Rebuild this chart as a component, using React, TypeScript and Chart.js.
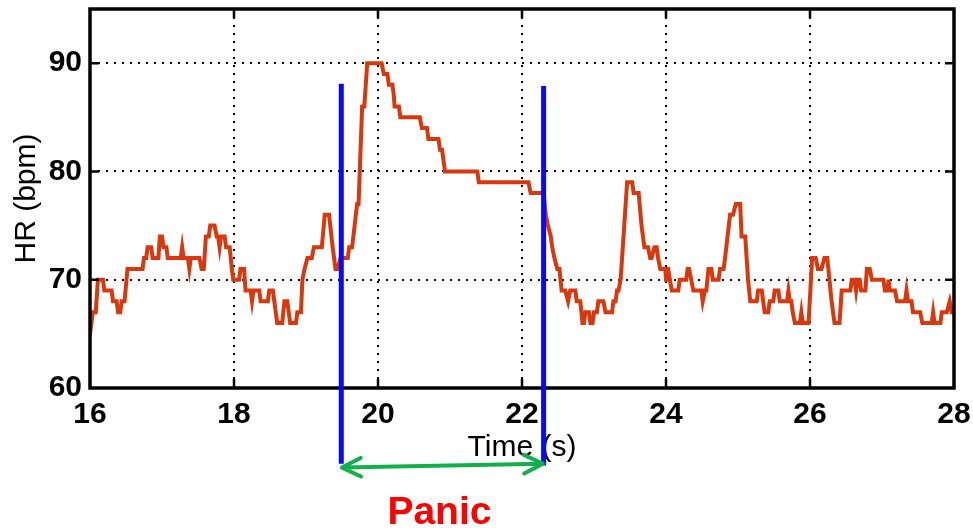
import React, { useEffect, useRef } from 'react';
import { Chart, registerables } from 'chart.js';

Chart.register(...registerables);

// Heart-rate trace (time in s, HR in bpm)
const timeSec = [
  16.00, 16.02, 16.04, 16.08, 16.11, 16.18, 16.20, 16.30, 16.32, 16.37, 16.39, 16.42, 16.44, 16.48,
  16.52, 16.73, 16.75, 16.78, 16.80, 16.85, 16.87, 16.95, 16.97, 17.00, 17.02, 17.06, 17.08, 17.26,
  17.28, 17.30, 17.36, 17.38, 17.40, 17.52, 17.55, 17.58, 17.61, 17.65, 17.67, 17.73, 17.76, 17.78,
  17.80, 17.82, 17.87, 17.89, 17.94, 17.97, 17.99, 18.07, 18.09, 18.14, 18.16, 18.23, 18.25, 18.27,
  18.35, 18.37, 18.47, 18.49, 18.54, 18.56, 18.60, 18.67, 18.70, 18.74, 18.78, 18.86, 18.88, 18.93,
  18.95, 18.98, 19.02, 19.08, 19.11, 19.22, 19.26, 19.32, 19.37, 19.41, 19.44, 19.48, 19.58, 19.60,
  19.64, 19.71, 19.73, 19.78, 19.81, 19.85, 20.05, 20.08, 20.13, 20.15, 20.20, 20.22, 20.23, 20.29,
  20.31, 20.58, 20.61, 20.68, 20.70, 20.84, 20.86, 20.89, 20.91, 20.93, 21.38, 21.40, 22.09, 22.12,
  22.30, 22.33, 22.36, 22.40, 22.42, 22.45, 22.49, 22.52, 22.55, 22.60, 22.64, 22.67, 22.74, 22.76,
  22.81, 22.84, 22.86, 22.88, 22.93, 22.95, 22.98, 23.00, 23.04, 23.06, 23.13, 23.16, 23.25, 23.27,
  23.30, 23.32, 23.34, 23.37, 23.46, 23.53, 23.55, 23.62, 23.66, 23.70, 23.75, 23.78, 23.80, 23.84,
  23.87, 23.89, 23.92, 23.99, 24.00, 24.01, 24.03, 24.08, 24.17, 24.19, 24.28, 24.30, 24.32, 24.35,
  24.38, 24.49, 24.51, 24.54, 24.56, 24.59, 24.63, 24.65, 24.73, 24.75, 24.80, 24.82, 24.89, 24.93,
  24.97, 25.03, 25.05, 25.10, 25.14, 25.17, 25.26, 25.28, 25.33, 25.37, 25.42, 25.44, 25.49, 25.51,
  25.56, 25.58, 25.68, 25.70, 25.72, 25.74, 25.76, 25.79, 25.86, 25.88, 25.90, 25.98, 26.03, 26.08,
  26.11, 26.16, 26.20, 26.24, 26.30, 26.34, 26.41, 26.44, 26.56, 26.58, 26.62, 26.64, 26.66, 26.69,
  26.71, 26.77, 26.79, 26.83, 26.86, 27.02, 27.04, 27.08, 27.09, 27.11, 27.18, 27.21, 27.32, 27.34,
  27.36, 27.41, 27.43, 27.53, 27.56, 27.69, 27.71, 27.73, 27.81, 27.83, 27.90, 27.94, 27.97, 28.00,
];
const heartRate = [
  67, 66, 67, 67, 70, 70, 69, 69, 68, 68, 67, 67, 68, 68,
  71, 71, 72, 72, 73, 73, 72, 72, 74, 74, 73, 73, 72, 72,
  73, 72, 72, 71, 72, 72, 71, 71, 74, 74, 75, 75, 74, 74,
  73, 74, 74, 73, 73, 71, 70, 70, 71, 71, 69, 69, 68, 69,
  69, 68, 68, 69, 69, 68, 66, 66, 68, 68, 66, 66, 67, 67,
  70, 71, 72, 72, 73, 73, 76, 76, 73, 71, 71, 72, 72, 73,
  73, 77, 77, 86, 86, 90, 90, 89, 89, 88, 88, 87, 86, 86,
  85, 85, 84, 84, 83, 83, 82, 82, 81, 80, 80, 79, 79, 78,
  78, 76, 75, 74, 73, 72, 71, 71, 69, 69, 68, 69, 69, 68,
  68, 66, 66, 67, 67, 66, 66, 67, 67, 68, 68, 67, 67, 68,
  68, 69, 69, 70, 79, 79, 78, 78, 75, 73, 73, 72, 72, 73,
  73, 72, 71, 71, 70, 71, 71, 69, 69, 70, 70, 71, 71, 70,
  69, 69, 68, 69, 69, 71, 71, 70, 70, 71, 71, 72, 76, 76,
  77, 77, 74, 74, 70, 68, 68, 69, 69, 67, 67, 68, 68, 69,
  69, 68, 68, 69, 68, 68, 67, 66, 66, 67, 66, 66, 72, 72,
  71, 71, 72, 72, 68, 66, 66, 69, 69, 70, 70, 69, 70, 70,
  69, 69, 71, 71, 70, 70, 69, 69, 70, 69, 69, 68, 68, 69,
  68, 68, 67, 67, 66, 66, 67, 66, 66, 67, 67, 68, 67, 67,
];

const xTickValues = [16, 18, 20, 22, 24, 26, 28];
const yTickValues = [60, 70, 80, 90];

// Panic annotation (time in s, vertical extent in bpm units of the y scale)
const panicTimes = [19.49, 22.3];
const panicTopHR = [88.1, 87.9];
const panicBottomHR = [53.0, 52.85];
const arrowTimes = [19.5, 22.29];
const arrowHR = [52.65, 53.0];
const panicLabel = 'Panic';

const FONT = "'Liberation Sans', Arial, Helvetica, sans-serif";

export default function App() {
  const ref = useRef<HTMLCanvasElement>(null);

  useEffect(() => {
    const canvas = ref.current;
    if (!canvas) return;

    const overlay = {
      id: 'overlay',
      afterDraw(chart: any) {
        const { ctx, chartArea } = chart;
        const { left, right, top, bottom } = chartArea;
        const xs = chart.scales.x;
        const ys = chart.scales.y;
        ctx.save();
        // box
        ctx.strokeStyle = '#000';
        ctx.lineWidth = 3.5;
        ctx.strokeRect(left, top, right - left, bottom - top);
        // inward tick marks
        ctx.lineWidth = 2.5;
        ctx.beginPath();
        yTickValues.forEach((v) => {
          if (v === 60) return;
          const y = ys.getPixelForValue(v);
          ctx.moveTo(left, y);
          ctx.lineTo(left + 9, y);
          ctx.moveTo(right, y);
          ctx.lineTo(right - 9, y);
        });
        xTickValues.forEach((v) => {
          if (v === 16 || v === 28) return;
          const x = xs.getPixelForValue(v);
          ctx.moveTo(x, bottom);
          ctx.lineTo(x, bottom - 9);
          ctx.moveTo(x, top);
          ctx.lineTo(x, top + 9);
        });
        ctx.stroke();
        // blue panic boundaries
        ctx.strokeStyle = '#0808ff';
        ctx.lineWidth = 5;
        panicTimes.forEach((t, i) => {
          const x = xs.getPixelForValue(t);
          ctx.beginPath();
          ctx.moveTo(x, ys.getPixelForValue(panicTopHR[i]));
          ctx.lineTo(x, ys.getPixelForValue(panicBottomHR[i]));
          ctx.stroke();
        });
        // green double arrow
        const x1 = xs.getPixelForValue(arrowTimes[0]);
        const y1 = ys.getPixelForValue(arrowHR[0]);
        const x2 = xs.getPixelForValue(arrowTimes[1]);
        const y2 = ys.getPixelForValue(arrowHR[1]);
        ctx.strokeStyle = '#12b04c';
        ctx.lineWidth = 4;
        ctx.lineCap = 'round';
        ctx.lineJoin = 'round';
        ctx.beginPath();
        ctx.moveTo(x1, y1);
        ctx.lineTo(x2, y2);
        const ang = Math.atan2(y2 - y1, x2 - x1);
        const hl = 21;
        const ha = 0.46;
        ctx.moveTo(x1 + hl * Math.cos(ang - ha), y1 + hl * Math.sin(ang - ha));
        ctx.lineTo(x1, y1);
        ctx.lineTo(x1 + hl * Math.cos(ang + ha), y1 + hl * Math.sin(ang + ha));
        ctx.moveTo(x2 - hl * Math.cos(ang - ha), y2 - hl * Math.sin(ang - ha));
        ctx.lineTo(x2, y2);
        ctx.lineTo(x2 - hl * Math.cos(ang + ha), y2 - hl * Math.sin(ang + ha));
        ctx.stroke();
        // label
        ctx.fillStyle = '#ff0000';
        ctx.font = `bold 39px ${FONT}`;
        ctx.textAlign = 'center';
        ctx.textBaseline = 'alphabetic';
        ctx.fillText(panicLabel, (x1 + x2) / 2 - 3, 524);
        ctx.restore();
      },
    };

    const chart = new Chart(canvas, {
      type: 'line',
      data: {
        datasets: [
          {
            data: timeSec.map((t, i) => ({ x: t, y: heartRate[i] })),
            borderColor: '#d9380e',
            borderWidth: 4,
            pointRadius: 0,
            tension: 0,
            fill: false,
          },
        ],
      },
      options: {
        responsive: false,
        maintainAspectRatio: false,
        animation: false,
        layout: { padding: { top: 9, right: 19, left: 0, bottom: 0 } },
        plugins: { legend: { display: false }, tooltip: { enabled: false } },
        scales: {
          x: {
            type: 'linear',
            min: 16,
            max: 28,
            afterBuildTicks: (s: any) => {
              s.ticks = xTickValues.map((v) => ({ value: v }));
            },
            ticks: {
              font: { family: FONT, size: 30, weight: 'bold' },
              color: '#000',
              padding: 9,
              maxRotation: 0,
              autoSkip: false,
            },
            grid: { color: '#000', lineWidth: 2, drawTicks: false },
            border: { display: false, dash: [2, 6] },
            title: {
              display: true,
              text: 'Time (s)',
              font: { family: FONT, size: 30 },
              color: '#000',
              padding: { top: 0, bottom: 65 },
            },
            afterFit: (s: any) => {
              s.height = 143;
              s.paddingLeft = 0;
              s.paddingRight = 0;
            },
          },
          y: {
            type: 'linear',
            min: 60,
            max: 95,
            afterBuildTicks: (s: any) => {
              s.ticks = yTickValues.map((v) => ({ value: v }));
            },
            ticks: {
              font: { family: FONT, size: 30, weight: 'bold' },
              color: '#000',
              padding: 8,
            },
            grid: { color: '#000', lineWidth: 2, drawTicks: false },
            border: { display: false, dash: [2, 6] },
            title: {
              display: true,
              text: 'HR (bpm)',
              font: { family: FONT, size: 30 },
              color: '#000',
              padding: { top: 9, bottom: 0 },
            },
            afterFit: (s: any) => {
              s.width = 90;
              s.paddingTop = 0;
              s.paddingBottom = 0;
            },
          },
        },
      },
      plugins: [overlay],
    });

    return () => chart.destroy();
  }, []);

  return (
    <div style={{ position: 'absolute', left: 0, top: 0, width: 973, height: 531, background: '#fff' }}>
      <canvas ref={ref} width={973} height={531} style={{ display: 'block', width: 973, height: 531 }} />
    </div>
  );
}
